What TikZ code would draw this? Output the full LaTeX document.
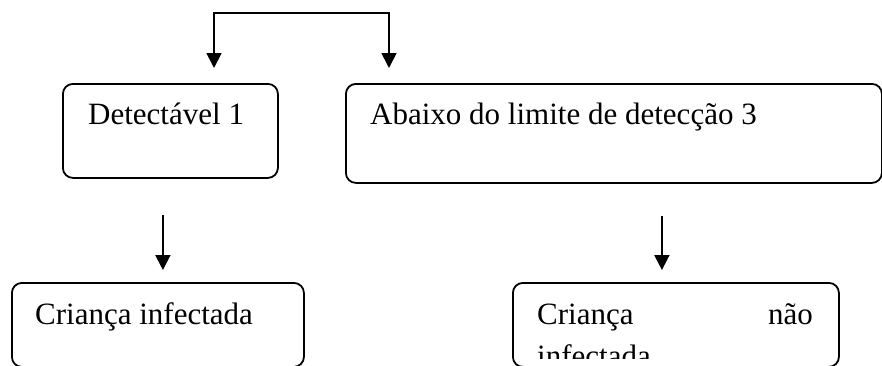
\documentclass[tikz,border=0pt]{standalone}
\usepackage{fontspec}
\setmainfont{Liberation Serif}
\usetikzlibrary{arrows.meta}

\begin{document}
\begin{tikzpicture}[x=1pt,y=-1pt,>={Triangle[length=15pt,width=15pt]},
  box/.style={draw,line width=1.8pt,rounded corners=10pt,anchor=north west,inner sep=0pt},
  txt/.style={inner sep=0pt,font=\fontsize{31}{36}\selectfont},
  arr/.style={->,line width=1.8pt}]
  \useasboundingbox (0,0) rectangle (882,365);

  % boxes
  \node[box,minimum width=215pt,minimum height=94pt] (detect) at (62,83) {};
  \node[box,minimum width=536pt,minimum height=99pt] (below) at (345,83) {};
  \node[box,minimum width=292pt,minimum height=84pt] (infect) at (11,282) {};
  \node[box,minimum width=326pt,minimum height=84pt] (noninf) at (512,282) {};

  % texts
  \node[txt,anchor=base west] (detecttxt) at (88,124) {Detectável 1};
  \node[txt,anchor=base west] (belowtxt) at (370,124) {Abaixo do limite de detecção 3};
  \node[txt,anchor=base west] (infecttxt) at (35,324) {Criança infectada};
  \node[txt,anchor=base west] (noninftxt) at (537,324) {Criança};
  \node[txt,anchor=base east] (noninfnao) at (813,324) {não};
  \begin{scope}
    \clip (noninf.north west) rectangle ([yshift=9pt]noninf.south east);
    \node[txt,anchor=base west] (noninfrest) at (537,366) {infectada};
  \end{scope}

  % arrows
  \coordinate (topL) at (214,13);
  \coordinate (topR) at (389,13);
  \draw[<->,line width=1.8pt,shorten <=15pt,shorten >=15pt]
    (topL |- detect.north) -- (topL) -- (topR) -- (topR |- below.north);
  \draw[arr,shorten <=36pt,shorten >=12pt]
    ([xshift=-7.5pt]detect.south) -- ([xshift=-7.5pt]detect.south |- infect.north);
  \draw[arr,shorten <=32pt,shorten >=12pt]
    ([xshift=48pt]below.south) -- ([xshift=48pt]below.south |- noninf.north);
\end{tikzpicture}
\end{document}
